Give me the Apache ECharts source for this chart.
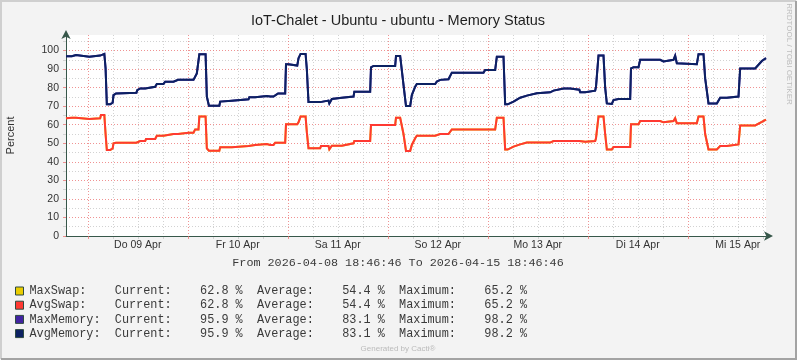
<!DOCTYPE html>
<html><head><meta charset="utf-8">
<script src="https://cdn.jsdelivr.net/npm/echarts@6/dist/echarts.min.js"></script>
<style>html,body{margin:0;padding:0;background:#F3F3F3}#c{width:797px;height:360px}</style>
</head><body><div id="c"></div>
<script>
// ---------- chart data ----------
const chartTitle = 'IoT-Chalet - Ubuntu - ubuntu - Memory Status';
const rangeText = 'From 2026-04-08 18:46:46 To 2026-04-15 18:46:46';
const startHour = 18 + 46 / 60 + 46 / 3600;   // 2026-04-08 18:46:46, hours after 2026-04-08 00:00
const spanHours = 168;                          // 7 days
const dayLabels = ['Do 09 Apr', 'Fr 10 Apr', 'Sa 11 Apr', 'So 12 Apr', 'Mo 13 Apr', 'Di 14 Apr', 'Mi 15 Apr'];
const yTickLabels = [0, 10, 20, 30, 40, 50, 60, 70, 80, 90, 100];
const yAxisName = 'Percent';

// hours after the start of the graph
const hours = [
  0, 1.4, 1.8, 2.4, 2.7, 5.6, 5.8, 8.2, 8.4, 9.2, 9.5, 9.8, 10.6, 10.8, 11.2, 11.4, 12.0, 16.9, 17.1, 17.8,
  19.0, 19.2, 21.4, 21.8, 23.4, 23.8, 25.8, 26.2, 26.9, 29.4, 30.6, 31.0, 31.4, 31.8, 32.0, 33.5, 33.8, 34.3, 36.8, 37.0,
  37.4, 39.8, 40.2, 43.8, 44.0, 45.4, 45.8, 48.2, 48.6, 49.0, 49.8, 50.2, 50.9, 52.6, 52.8, 53.4, 53.8, 55.5, 55.8, 56.3,
  57.5, 57.8, 58.2, 61.0, 61.2, 63.0, 63.2, 63.5, 63.8, 66.2, 69.0, 69.2, 73.0, 73.2, 73.8, 79.0, 79.2, 80.2, 81.0, 81.6,
  82.6, 83.0, 83.8, 84.2, 88.6, 89.0, 89.8, 91.8, 92.6, 100.2, 100.6, 103.0, 103.4, 105.0, 105.4, 106.0, 107.4, 109.0, 110.6, 113.0,
  116.2, 117.0, 119.4, 121.0, 121.4, 123.2, 123.4, 124.6, 125.0, 127.0, 127.2, 127.5, 127.8, 129.0, 129.4, 129.8, 131.0, 131.4, 132.6, 135.4,
  135.6, 136.2, 137.4, 137.8, 142.6, 143.0, 143.4, 143.8, 145.8, 146.2, 146.6, 147.0, 151.4, 151.8, 153.0, 153.4, 154.2, 156.2, 157.0, 158.6,
  159.0, 161.4, 161.8, 165.4, 165.8, 167.0, 168.0
];
const avgMemory = [
  96.9, 96.9, 97.6, 97.6, 96.7, 96.7, 97.3, 97.3, 98.2, 98.2, 90.4, 71.0, 71.0, 71.9, 71.9, 76.0, 76.9, 77.3, 78.7, 79.6,
  79.6, 80.5, 80.5, 82.0, 82.0, 83.2, 83.2, 83.8, 84.2, 84.2, 84.2, 85.0, 87.7, 87.7, 98.0, 98.0, 75.2, 70.3, 70.3, 72.5,
  73.0, 73.0, 73.7, 73.7, 74.8, 74.8, 75.5, 75.5, 76.0, 75.2, 75.2, 76.0, 76.9, 76.9, 92.6, 92.6, 91.9, 91.9, 95.8, 98.2,
  98.2, 90.0, 72.2, 72.2, 73.0, 73.0, 71.5, 71.5, 73.9, 74.6, 75.2, 77.8, 77.8, 91.0, 91.7, 91.7, 97.1, 97.1, 81.5, 70.1,
  70.1, 76.0, 80.5, 82.0, 82.0, 83.3, 84.2, 84.5, 88.1, 88.1, 89.5, 89.5, 96.7, 96.7, 71.0, 71.0, 72.5, 74.6, 75.7, 77.0,
  77.5, 78.4, 79.5, 79.5, 78.9, 78.9, 77.5, 77.5, 78.4, 78.4, 80.5, 80.5, 97.3, 97.3, 80.0, 71.5, 71.2, 73.3, 73.9, 73.9,
  90.4, 91.0, 91.0, 95.0, 95.0, 94.1, 94.1, 95.0, 95.0, 97.3, 93.2, 92.6, 92.6, 98.0, 98.0, 85.0, 71.5, 71.5, 74.6, 74.6,
  75.2, 75.2, 90.4, 90.4, 91.0, 94.4, 95.9
];
const avgSwap = [
  63.5, 63.8, 63.8, 63.8, 63.1, 63.1, 63.5, 63.5, 65.2, 65.2, 55.0, 46.4, 46.4, 47.3, 47.3, 50.0, 50.3, 50.3, 51.2, 51.2,
  51.2, 52.3, 52.3, 54.1, 54.1, 55.0, 55.0, 55.0, 55.0, 55.7, 55.7, 57.5, 57.5, 57.5, 64.4, 64.4, 47.3, 46.0, 46.0, 47.8,
  47.8, 47.8, 48.5, 48.5, 49.1, 49.1, 49.6, 49.6, 49.6, 49.1, 49.1, 50.3, 50.3, 50.3, 60.2, 60.2, 60.2, 60.2, 61.3, 64.4,
  64.4, 56.0, 47.3, 47.3, 48.5, 48.5, 46.7, 46.7, 48.7, 48.7, 50.0, 51.2, 51.2, 59.9, 59.9, 59.9, 63.8, 63.8, 55.0, 45.9,
  45.9, 49.1, 52.7, 54.1, 54.1, 54.1, 55.0, 55.0, 57.5, 57.5, 57.5, 57.5, 63.8, 63.8, 46.6, 46.6, 48.2, 49.4, 50.4, 50.4,
  50.4, 51.2, 51.2, 51.2, 51.2, 51.2, 50.8, 50.8, 51.2, 51.2, 52.7, 52.7, 64.4, 64.4, 55.0, 46.7, 46.7, 48.0, 48.0, 48.0,
  60.2, 60.2, 60.2, 62.0, 62.0, 61.3, 61.3, 62.0, 62.0, 63.5, 60.8, 60.8, 60.8, 64.4, 64.4, 55.0, 46.7, 46.7, 48.5, 48.5,
  49.4, 49.4, 59.6, 59.6, 59.9, 61.5, 62.8
];
// the Max* series coincide with the Avg* series in the picture
const maxSwap = avgSwap;
const maxMemory = avgMemory;

const legendNames = ['MaxSwap', 'AvgSwap', 'MaxMemory', 'AvgMemory'];
const legendColors = ['#EACC00', '#FF3932', '#4123A1', '#0C2162'];
const legendCurrent = [62.8, 62.8, 95.9, 95.9];
const legendAverage = [54.4, 54.4, 83.1, 83.1];
const legendMaximum = [65.2, 65.2, 98.2, 98.2];
const footerText = 'Generated by Cacti®';
const watermark = 'RRDTOOL / TOBI OETIKER';

// ---------- build ----------
const xMin = startHour, xMax = startHour + spanHours;
const midnights = [], sixHours = [], noons = [];
for (let h = 0; h <= 24 * 8; h += 6) {
  if (h < xMin || h > xMax) continue;
  if (h % 24 === 0) midnights.push(h); else sixHours.push(h);
  if (h % 24 === 12) noons.push(h);
}
const yMinor = yTickLabels.map(v => v + 5);
const yMax = 108.4;

const toData = arr => hours.map((h, i) => [startHour + h, arr[i]]);
const seriesList = [
  ['MaxSwap', maxSwap], ['AvgSwap', avgSwap], ['MaxMemory', maxMemory], ['AvgMemory', avgMemory]
].map(([name, arr], i) => ({
  name, type: 'line', data: toData(arr), showSymbol: false, symbol: 'none',
  xAxisIndex: 0, yAxisIndex: 0, animation: false, z: 5 + i,
  lineStyle: { color: legendColors[i], width: 2, join: 'miter' }, itemStyle: { color: legendColors[i] }
}));

const majorGrid = 'rgba(235,110,110,0.75)';
const minorGrid = '#D2D2D2';
const axisColor = '#37574A';
const mono = '"Liberation Mono", "DejaVu Sans Mono", monospace';
const sans = '"Liberation Sans", Arial, sans-serif';

const fmt = v => v.toFixed(1).padStart(8);
const legendGraphics = [];
legendNames.forEach((n, i) => {
  const y = 291 + i * 14.2;
  legendGraphics.push({
    type: 'rect', shape: { x: 15.5, y: y - 4, width: 8, height: 8 },
    style: { fill: legendColors[i], stroke: '#2E4A40', lineWidth: 1 }, z: 100
  });
  const line = (n + ':').padEnd(12) + 'Current:' + fmt(legendCurrent[i]) + ' %  ' +
    'Average:' + fmt(legendAverage[i]) + ' %  ' + 'Maximum:' + fmt(legendMaximum[i]) + ' %';
  legendGraphics.push({
    type: 'text', x: 29.5, y: y, z: 100,
    style: { text: line, font: '11.85px ' + mono, fill: '#3A3A3A', align: 'left', verticalAlign: 'middle' }
  });
});

const option = {
  backgroundColor: '#F3F3F3',
  animation: false,
  grid: { left: 66, right: 31, top: 35, bottom: 124, show: true, backgroundColor: '#FFFFFF', borderWidth: 0, containLabel: false, outerBoundsMode: 'none' },
  xAxis: [
    {
      type: 'value', min: xMin, max: xMax, position: 'bottom', z: 3,
      axisLine: { show: true, onZero: false, lineStyle: { color: axisColor, width: 1 }, symbol: ['none', 'arrow'], symbolSize: [7, 9], symbolOffset: [0, 7] },
      axisTick: { show: true, length: 3, customValues: midnights, lineStyle: { color: majorGrid } },
      axisLabel: { show: true, customValues: noons, margin: 4, color: '#333', fontSize: 10.5, fontFamily: sans,
        formatter: v => dayLabels[noons.indexOf(Math.round(v))] || '' },
      splitLine: { show: true, lineStyle: { color: majorGrid, type: [1, 2], width: 1 } }
    },
    {
      type: 'value', min: xMin, max: xMax, position: 'bottom', z: 2,
      axisLine: { show: false },
      axisTick: { show: true, length: 3, customValues: sixHours, lineStyle: { color: minorGrid } },
      axisLabel: { show: false },
      splitLine: { show: true, lineStyle: { color: minorGrid, type: [1, 2], width: 1 } }
    }
  ],
  yAxis: [
    {
      type: 'value', min: 0, max: yMax, position: 'left', z: 3,
      name: yAxisName, nameLocation: 'middle', nameGap: 50, nameRotate: 90,
      nameTextStyle: { color: '#333', fontSize: 11, fontFamily: sans },
      axisLine: { show: true, onZero: false, lineStyle: { color: axisColor, width: 1 }, symbol: ['none', 'arrow'], symbolSize: [7, 9], symbolOffset: [0, 5] },
      axisTick: { show: true, length: 3, customValues: yTickLabels, lineStyle: { color: majorGrid } },
      axisLabel: { show: true, customValues: yTickLabels, margin: 7, color: '#333', fontSize: 10.5, fontFamily: sans },
      splitLine: { show: true, lineStyle: { color: majorGrid, type: [1, 2], width: 1 } }
    },
    {
      type: 'value', min: 0, max: yMax, position: 'left', z: 2,
      axisLine: { show: false },
      axisTick: { show: true, length: 3, customValues: yMinor, lineStyle: { color: minorGrid } },
      axisLabel: { show: false },
      splitLine: { show: true, lineStyle: { color: minorGrid, type: [1, 2], width: 1 } }
    }
  ],
  series: seriesList,
  graphic: [
    { type: 'polyline', shape: { points: [[1, 359], [1, 1], [796, 1]] }, style: { stroke: '#CFCFCF', lineWidth: 2, fill: null }, z: 100 },
    { type: 'polyline', shape: { points: [[1, 359], [796, 359], [796, 1]] }, style: { stroke: '#A3A3A3', lineWidth: 2, fill: null }, z: 100 },
    { type: 'text', x: 398, y: 21, z: 100,
      style: { text: chartTitle, font: '14.5px ' + sans, fill: '#1E1E1E', align: 'center', verticalAlign: 'middle' } },
    { type: 'text', x: 398, y: 263, z: 100,
      style: { text: rangeText, font: '11.75px ' + mono, fill: '#3A3A3A', align: 'center', verticalAlign: 'middle' } },
    { type: 'text', x: 398, y: 349, z: 100,
      style: { text: footerText, font: '8px ' + sans, fill: '#BBBBBB', align: 'center', verticalAlign: 'middle' } },
    { type: 'text', x: 789, y: 54, rotation: -Math.PI / 2, z: 100,
      style: { text: watermark, font: '8px ' + sans, fill: '#BDBDBD', align: 'center', verticalAlign: 'middle' } },
    ...legendGraphics
  ]
};

const chart = echarts.init(document.getElementById('c'), null, { renderer: 'canvas' });
chart.setOption(option);
</script>
</body></html>
